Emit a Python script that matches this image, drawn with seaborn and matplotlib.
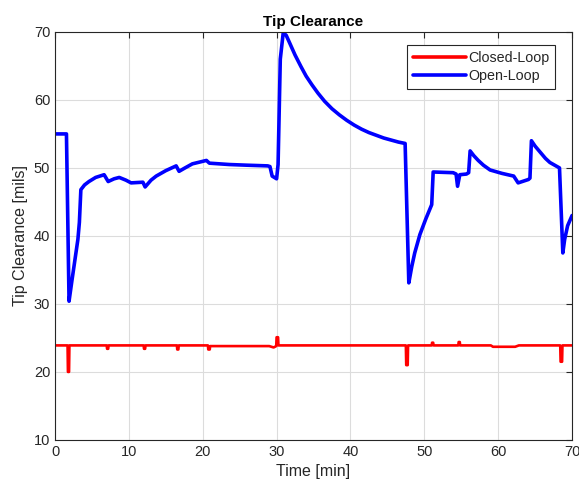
import matplotlib
matplotlib.use("Agg")
import matplotlib.pyplot as plt
import seaborn as sns
import pandas as pd

# ---- data ----
closed_t = [0, 1.70, 1.75, 1.90, 1.95, 7.0, 7.05, 7.2, 7.25, 12.0, 12.05, 12.2, 12.25,
            16.5, 16.55, 16.7, 16.75, 20.7, 20.75, 20.95, 21.0, 29.0, 29.6, 29.95, 30.0,
            30.2, 30.25, 47.5, 47.55, 47.75, 47.8, 51.0, 51.05, 51.2, 51.25, 54.6, 54.65,
            54.8, 54.85, 59.0, 59.3, 62.3, 62.8, 68.4, 68.45, 68.65, 68.7, 70.0]
closed_v = [23.9, 23.9, 20.0, 20.0, 23.9, 23.9, 23.4, 23.4, 23.9, 23.9, 23.4, 23.4, 23.9,
            23.9, 23.3, 23.3, 23.9, 23.9, 23.3, 23.3, 23.8, 23.8, 23.6, 23.8, 25.1,
            25.1, 23.9, 23.9, 21.0, 21.0, 23.9, 23.9, 24.3, 24.3, 23.9, 23.9, 24.4,
            24.4, 23.9, 23.9, 23.7, 23.7, 23.9, 23.9, 21.5, 21.5, 23.9, 23.9]

open_t = [0, 1.55, 1.9, 2.3, 2.7, 3.1, 3.3, 3.5, 4.0, 4.6, 5.5, 6.65, 7.2, 8.0, 8.7, 9.6,
          10.3, 11.9, 12.2, 13.0, 13.7, 15.0, 16.4, 16.8, 17.6, 18.6, 20.5, 20.9, 23.6,
          26.0, 28.8, 29.1, 29.4, 30.0, 30.2, 30.5, 30.9, 31.3, 31.8, 32.5, 33.3, 34.0,
          34.8, 35.6, 36.5, 37.5, 38.5, 39.5, 40.5, 41.5, 42.5, 43.5, 44.5, 45.5, 46.5,
          47.4, 47.9, 48.3, 48.7, 49.4, 50.2, 51.0, 51.2, 53.9, 54.3, 54.5, 54.8, 55.7,
          56.0, 56.2, 56.7, 57.3, 58.0, 58.9, 60.5, 62.1, 62.7, 64.1, 64.3, 64.5, 65.0,
          65.7, 66.4, 67.0, 68.3, 68.75, 69.0, 69.4, 70.0]
open_v = [55.0, 55.0, 30.4, 33.5, 36.5, 39.5, 42.0, 46.8, 47.5, 48.0, 48.6, 49.0, 48.0,
          48.4, 48.6, 48.2, 47.8, 47.9, 47.2, 48.2, 48.8, 49.6, 50.3, 49.5, 50.0, 50.6,
          51.1, 50.7, 50.5, 50.4, 50.3, 50.2, 48.8, 48.4, 50.5, 66.0, 69.9, 69.5, 68.3,
          66.6, 64.9, 63.5, 62.2, 61.0, 59.8, 58.7, 57.8, 57.0, 56.3, 55.7, 55.2, 54.8,
          54.4, 54.1, 53.8, 53.6, 33.1, 35.5, 37.5, 40.2, 42.5, 44.6, 49.4, 49.3, 49.1,
          47.3, 49.0, 49.1, 49.3, 52.5, 51.8, 51.1, 50.4, 49.7, 49.2, 48.8, 47.8, 48.3,
          48.5, 54.0, 53.2, 52.3, 51.4, 50.8, 50.0, 37.5, 39.5, 41.5, 43.0]

x_ticks = [0, 10, 20, 30, 40, 50, 60, 70]
y_ticks = [10, 20, 30, 40, 50, 60, 70]

df_closed = pd.DataFrame({"Time": closed_t, "Clearance": closed_v})
df_open = pd.DataFrame({"Time": open_t, "Clearance": open_v})

sns.set_style("whitegrid")
plt.rcParams["font.family"] = ["Liberation Sans", "DejaVu Sans"]

fig = plt.figure(figsize=(5.79, 4.91), dpi=100)
ax = fig.add_axes([0.095, 0.104, 0.893, 0.831])

sns.lineplot(data=df_closed, x="Time", y="Clearance", ax=ax, color="#ff0000",
             linewidth=1.9, label="Closed-Loop", estimator=None, sort=False)
sns.lineplot(data=df_open, x="Time", y="Clearance", ax=ax, color="#0000ff",
             linewidth=2.6, label="Open-Loop", estimator=None, sort=False)

ax.set_xlim(0, 70)
ax.set_ylim(10, 70)
ax.set_xticks(x_ticks)
ax.set_yticks(y_ticks)
ax.grid(True, color="#dcdcdc", linewidth=0.8)
for s in ax.spines.values():
    s.set_visible(True)
    s.set_color("#262626")
    s.set_linewidth(0.8)
ax.tick_params(axis="both", direction="in", length=4, width=0.8, colors="#262626",
               labelsize=10.5, top=True, right=True, labelcolor="#262626")
ax.set_xlabel("Time [min]", fontsize=11.5, color="#262626", labelpad=4)
ax.set_ylabel("Tip Clearance [mils]", fontsize=11.5, color="#262626", labelpad=4)
ax.set_title("Tip Clearance", fontsize=11, fontweight="bold", color="#000000", pad=4)

leg = ax.legend(loc="upper right", bbox_to_anchor=(0.967, 0.968), borderaxespad=0,
                fontsize=10.3, frameon=True, fancybox=False, edgecolor="#262626",
                framealpha=1, handlelength=3.7, handletextpad=0.15, borderpad=0.4,
                labelspacing=0.3)
leg.get_frame().set_linewidth(0.8)
for h in leg.get_lines():
    h.set_linewidth(2.6)

fig.savefig("out.png", dpi=100)
